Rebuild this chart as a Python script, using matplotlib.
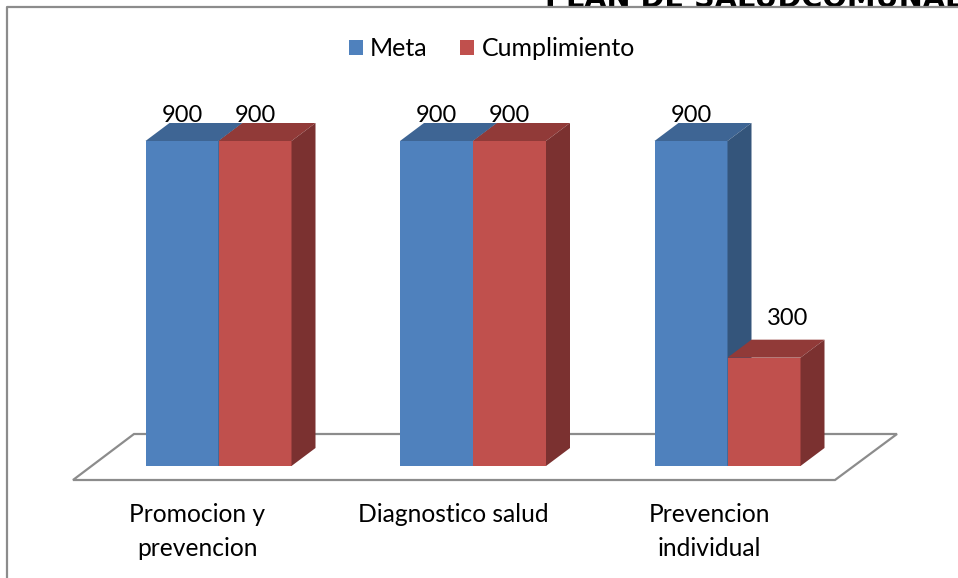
import numpy as np
import matplotlib
matplotlib.use('Agg')
import matplotlib.pyplot as plt

plt.rcParams['font.family'] = ['Lato', 'DejaVu Sans']

categories = ['Promocion y\nprevencion', 'Diagnostico salud', 'Prevencion\nindividual']
meta = [900, 900, 900]
cumplimiento = [900, 900, 300]

W, H = 958, 578
x0 = 218.5   # pixel centre of first group
step = 254.5  # pixels between groups
y0 = 466     # pixel of value 0
per_val = 325 / 900  # pixels per unit

blue, blue_top, blue_side = '#4F81BD', '#3E6594', '#34557B'
red, red_top, red_side = '#C0504D', '#913A38', '#7B3130'
grey = '#8C8C8C'

fig = plt.figure(figsize=(W / 100, H / 100), dpi=100)
ax = fig.add_axes([0, 0, 1, 1])
ax.set_xlim(-x0 / step, (W - x0) / step)
ax.set_ylim((y0 - H) / per_val, y0 / per_val)
ax.axis('off')

px = 1 / step       # one pixel in x data units
py = 1 / per_val    # one pixel in y data units
bw = 73 * px
dx, dy = 24 * px, 18 * py


def fx(p):
    return (p - x0) * px


def fy(p):
    return (y0 - p) * py


# outer frame, runs off the right and bottom of the picture
ax.plot([fx(W + 5), fx(7), fx(7)], [fy(7), fy(7), fy(H + 5)], color=grey, lw=1.6, clip_on=False)

# floor
ax.fill([fx(73), fx(134), fx(897), fx(835)], [fy(480), fy(434), fy(434), fy(480)],
        facecolor='white', edgecolor=grey, lw=1.6, joinstyle='miter', zorder=1)


def box(xc, val, front, top, side, label=None):
    left = xc - bw / 2
    ax.bar(xc, val, bw, color=front, zorder=3, label=label)
    ax.fill([left, left + dx, left + bw + dx, left + bw],
            [val, val + dy, val + dy, val], color=top, lw=0, zorder=3)
    ax.fill([left + bw, left + bw + dx, left + bw + dx, left + bw],
            [0, dy, val + dy, val], color=side, lw=0, zorder=3)


for i in range(len(categories)):
    box(i - bw / 2, meta[i], blue, blue_top, blue_side, 'Meta' if i == 0 else None)
    box(i + bw / 2, cumplimiento[i], red, red_top, red_side, 'Cumplimiento' if i == 0 else None)

    for xc, val in [(i - bw / 2, meta[i]), (i + bw / 2, cumplimiento[i])]:
        # the short bar has its label pushed over the side face
        off = (0, 26) if val == 900 else (24, 39)
        ax.annotate(str(val), (xc, val), xytext=(off[0] * 0.72, off[1] * 0.72),
                    textcoords='offset points', ha='center', va='center',
                    fontsize=17, color='black', zorder=5)

    ax.annotate(categories[i], (i, 0), xytext=((-21 + 1.5 * i) * 0.72, -37 * 0.72),
                textcoords='offset points', ha='center', va='top',
                fontsize=17.7, color='black', linespacing=1.6, zorder=5)

ax.legend(loc='center', bbox_to_anchor=(492 / W, 1 - 49 / H), ncol=2, frameon=False,
          fontsize=18, handlelength=0.55, handleheight=0.55, handletextpad=0.3,
          columnspacing=1.3, labelcolor='black')

# heading of the page behind the chart, cut by the top edge
ax.text(fx(545), fy(7), 'PLAN DE SALUDCOMUNAL', fontsize=20.7, fontweight='bold',
        family='DejaVu Sans', ha='left', va='baseline', color='black', zorder=0)

fig.savefig('out.png', dpi=100)
